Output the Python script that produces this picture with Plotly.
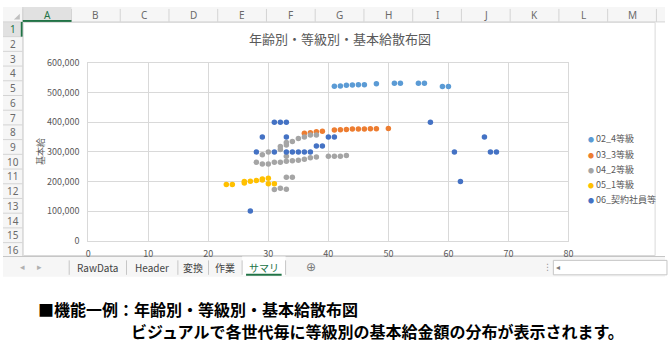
import plotly.graph_objects as go

W, H = 670, 355

# ---------------- data ----------------
series_names = ["02_4等級", "03_3等級", "04_2等級", "05_1等級", "06_契約社員等"]
series_colors = ["#5B9BD5", "#ED7D31", "#A5A5A5", "#FFC000", "#4472C4"]

age_g4 = [41, 42, 43, 44, 45, 46, 48, 51, 52, 55, 56, 59, 60]
pay_g4 = [522000, 523000, 525000, 526000, 527000, 527000, 530000, 532000, 532000, 532000, 532000, 521000, 521000]

age_g3 = [36, 37, 38, 39, 41, 42, 43, 44, 45, 46, 47, 48, 50]
pay_g3 = [363000, 365000, 368000, 370000, 374000, 375000, 376000, 377000, 377000, 377000, 378000, 378000, 379000]

age_g2 = [29, 30, 32, 32, 33, 33, 34, 35, 36, 37, 38,
          28, 29, 30, 31, 32, 33, 33, 34, 35, 36, 37, 38, 40, 41, 42, 43,
          31, 32, 33, 33, 34]
pay_g2 = [290000, 300000, 308000, 318000, 323000, 332000, 335000, 345000, 350000, 357000, 357000,
          265000, 259000, 259000, 265000, 265000, 268000, 285000, 270000, 272000, 275000, 280000, 283000, 285000, 285000, 285000, 288000,
          173000, 177000, 174000, 214000, 214000]

age_g1 = [23, 24, 26, 26, 27, 28, 29, 29, 30, 30, 31]
pay_g1 = [190000, 190000, 195000, 200000, 201000, 203000, 205000, 208000, 211000, 192000, 192000]

age_c = [27, 28, 29, 31, 31, 32, 33, 33, 33, 34, 35, 36, 37, 38, 39, 40, 41, 57, 61, 62, 66, 67, 68]
pay_c = [100000, 300000, 350000, 300000, 400000, 400000, 400000, 350000, 300000, 300000, 300000, 300000, 300000,
         320000, 320000, 350000, 350000, 400000, 300000, 200000, 350000, 300000, 300000]

x_ticks = [0, 10, 20, 30, 40, 50, 60, 70, 80]
y_ticks = [0, 100000, 200000, 300000, 400000, 500000, 600000]

chart_title = "年齢別・等級別・基本給散布図"
y_title = "基本給"
col_letters = ["A", "B", "C", "D", "E", "F", "G", "H", "I", "J", "K", "L", "M"]
row_numbers = list(range(1, 17))
sheet_tabs = ["RawData", "Header", "変換", "作業", "サマリ"]
caption_1 = "■機能一例：年齢別・等級別・基本給散布図"
caption_2 = "ビジュアルで各世代毎に等級別の基本給金額の分布が表示されます。"

# ---------------- helpers (pixel -> paper) ----------------
def px(x):
    return x / W

def py(y):
    return 1 - y / H

JP = "Noto Sans CJK JP"
GRID = "#d9d9d9"
TXT = "#595959"

fig = go.Figure()
xs = [age_g4, age_g3, age_g2, age_g1, age_c]
ys = [pay_g4, pay_g3, pay_g2, pay_g1, pay_c]
for name, col, xv, yv in zip(series_names, series_colors, xs, ys):
    fig.add_trace(go.Scatter(x=xv, y=yv, mode="markers", name=name,
                             marker=dict(color=col, size=5.5, line=dict(width=0)),
                             showlegend=False))

shapes = []
ann = []

def rect(x0, y0, x1, y1, fill, line=None, lw=0, layer="below"):
    shapes.append(dict(type="rect", xref="paper", yref="paper",
                       x0=px(x0), x1=px(x1), y0=py(y1), y1=py(y0),
                       fillcolor=fill, line=dict(color=line or fill, width=lw), layer=layer))

def line(x0, y0, x1, y1, color, lw=1, layer="below"):
    shapes.append(dict(type="line", xref="paper", yref="paper",
                       x0=px(x0), x1=px(x1), y0=py(y0), y1=py(y1),
                       line=dict(color=color, width=lw), layer=layer))

def text(x, y, s, size, color, xanchor="center", family=JP, angle=0):
    ann.append(dict(x=px(x), y=py(y), xref="paper", yref="paper", text=s, showarrow=False,
                    xanchor=xanchor, yanchor="middle", textangle=angle,
                    font=dict(size=size, color=color, family=family)))

# ---------------- Excel chrome ----------------
HEAD_H = 15.5
COL_W = 49.33
ROW_H = 15.27
SHEET_BOTTOM = 259
rect(0, 0, W, HEAD_H, "#f6f6f6")
rect(0, HEAD_H, 20, SHEET_BOTTOM, "#f6f6f6")
rect(20, 0, 20 + COL_W, HEAD_H, "#e1e1e1")
rect(0, HEAD_H, 20, HEAD_H + ROW_H, "#e1e1e1")
line(0, HEAD_H, W, HEAD_H, "#d4d4d4")
line(20, 0, 20, SHEET_BOTTOM, "#d4d4d4")
for i in range(len(col_letters) + 1):
    xb = 20 + i * COL_W
    line(xb, 2, xb, HEAD_H, "#d4d4d4")
for i, c in enumerate(col_letters):
    text(20 + COL_W * (i + 0.5), 8, c, 10, "#217346" if i == 0 else "#6a6a6a", family="Noto Sans")
for i, r in enumerate(row_numbers):
    yb = HEAD_H + (i + 1) * ROW_H
    line(0, yb, 20, yb, "#d4d4d4")
    text(10, HEAD_H + ROW_H * (i + 0.5), str(r), 10, "#217346" if i == 0 else "#6a6a6a", family="Noto Sans")
line(20, HEAD_H - 1, 20 + COL_W, HEAD_H - 1, "#217346", 2)
line(19, HEAD_H, 19, HEAD_H + ROW_H, "#217346", 2)
shapes.append(dict(type="path", xref="paper", yref="paper",
                   path=f"M {px(17)} {py(7)} L {px(17)} {py(13)} L {px(11)} {py(13)} Z",
                   fillcolor="#c0c0c0", line=dict(width=0)))

# chart area
rect(20.5, HEAD_H + 0.5, 660, SHEET_BOTTOM - 1, "#ffffff", "#d9d9d9", 1)

# tab bar
rect(0, SHEET_BOTTOM, W, 280, "#f6f6f6")
line(0, SHEET_BOTTOM, W, SHEET_BOTTOM, "#c6c6c6")
text(20, 270, "◂", 9, "#b0b0b0", family="DejaVu Sans")
text(37, 270, "▸", 9, "#b0b0b0", family="DejaVu Sans")
tab_edges = [67, 125, 177, 208, 242, 286]
rect(242, SHEET_BOTTOM, 286, 279, "#ffffff")
for xe in tab_edges:
    line(xe, 263, xe, 278, "#c6c6c6")
for i, t in enumerate(sheet_tabs):
    cx = (tab_edges[i] + tab_edges[i + 1]) / 2
    text(cx, 270, t, 10, "#217346" if i == len(sheet_tabs) - 1 else "#444444")
line(246, 278, 282, 278, "#217346", 2)
text(312, 270, "⊕", 12, "#7a7a7a", family="DejaVu Sans")
text(551, 270, "⋮", 9, "#9a9a9a", family="DejaVu Sans")
rect(557, 263, 672, 278, "#ffffff", "#c6c6c6", 1)
text(562, 270, "◂", 8, "#7a7a7a", family="DejaVu Sans")

# chart texts
text(341.5, 33, chart_title, 13, TXT)
text(38, 150, y_title, 9, TXT, angle=-90)
leg_y0, leg_dy = 137, 15.7
for i, (name, col) in enumerate(zip(series_names, series_colors)):
    text(590, leg_y0 + i * leg_dy,
         f'<span style="color:{col};font-size:6px">●</span> {name}', 9, TXT, xanchor="left")

# captions
text(33, 313, f"<b>{caption_1}</b>", 16, "#000000", xanchor="left")
text(128, 336, f"<b>{caption_2}</b>", 16, "#000000", xanchor="left")

fig.update_layout(
    width=W, height=H, margin=dict(l=0, r=0, t=0, b=0, pad=0),
    paper_bgcolor="#ffffff", plot_bgcolor="rgba(0,0,0,0)",
    showlegend=False, shapes=shapes, annotations=ann,
    xaxis=dict(domain=[px(86.3), px(572.3)], range=[0, 80], tickvals=x_ticks,
               showgrid=True, gridcolor=GRID, gridwidth=1, zeroline=False,
               showline=True, linecolor=GRID, mirror=True, ticks="", ticklabelstandoff=5,
               tickfont=dict(size=9, color=TXT, family=JP)),
    yaxis=dict(domain=[py(242.5), py(58.3)], range=[0, 600000], tickvals=y_ticks,
               tickformat=",d", showgrid=True, gridcolor=GRID, gridwidth=1, zeroline=False,
               showline=True, linecolor=GRID, mirror=True, ticks="", ticklabelstandoff=6,
               tickfont=dict(size=9, color=TXT, family=JP)),
)

fig.write_html("out.html")
